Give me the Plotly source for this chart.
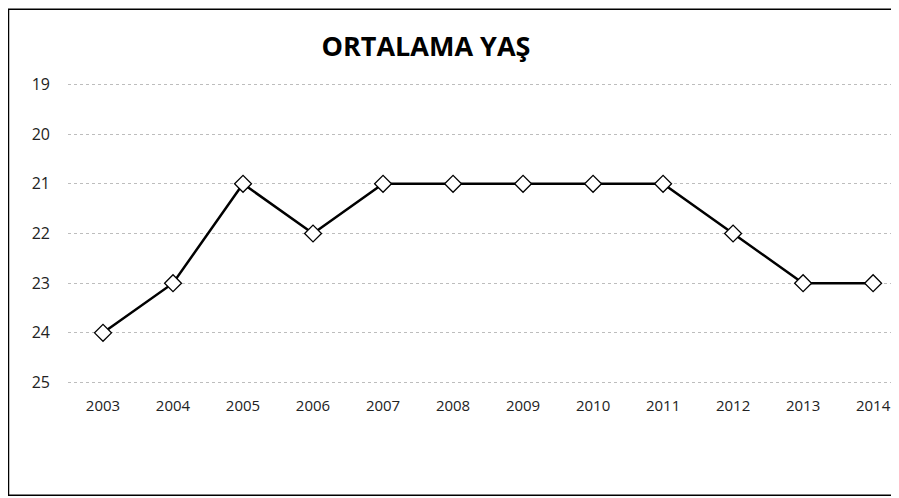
import plotly.graph_objects as go

years = ["2003", "2004", "2005", "2006", "2007", "2008", "2009", "2010",
         "2011", "2012", "2013", "2014"]
avg_age = [24, 23, 21, 22, 21, 21, 21, 21, 21, 22, 23, 23]
y_ticks = [19, 20, 21, 22, 23, 24, 25]

# page body has an 8px margin, so the figure is sized to fit the window
W, H = 891, 490
L, T, B = 60, 74.5, 113.5
pw, ph = W - L, H - T - B

fig = go.Figure()
fig.add_trace(go.Scatter(
    x=years, y=avg_age, mode="lines+markers",
    line=dict(color="black", width=2.5),
    marker=dict(symbol="diamond", size=13, color="white",
                line=dict(color="black", width=1.3)),
    showlegend=False,
))

fig.update_layout(
    width=W, height=H,
    margin=dict(l=L, r=0, t=T, b=B, autoexpand=False),
    paper_bgcolor="white", plot_bgcolor="white",
    font=dict(family="Open Sans", size=15, color="#222"),
    title=dict(text="<b>ORTALAMA YAŞ</b>", x=418 / W, xanchor="center",
               y=1 - 39 / H, yanchor="middle",
               font=dict(family="Open Sans", size=27, color="black")),
)
fig.update_xaxes(type="category", range=[-0.5, 11.37], showgrid=False,
                 showline=False, ticks="", ticklabelstandoff=11)
fig.update_yaxes(range=[25.03, 18.97], tickvals=y_ticks, showgrid=True,
                 gridcolor="#bdbdbd", griddash="dot", gridwidth=1,
                 zeroline=False, showline=False, ticks="",
                 ticklabelstandoff=17, tickfont=dict(size=16))

# outer chart frame
fig.add_shape(type="rect", xref="paper", yref="paper",
              x0=(0.5 - L) / pw, x1=(889 - L) / pw,
              y0=(H - B - 488) / ph, y1=(H - B - 0.5) / ph,
              line=dict(color="black", width=1.5), layer="below")

fig.write_html("out.html")
